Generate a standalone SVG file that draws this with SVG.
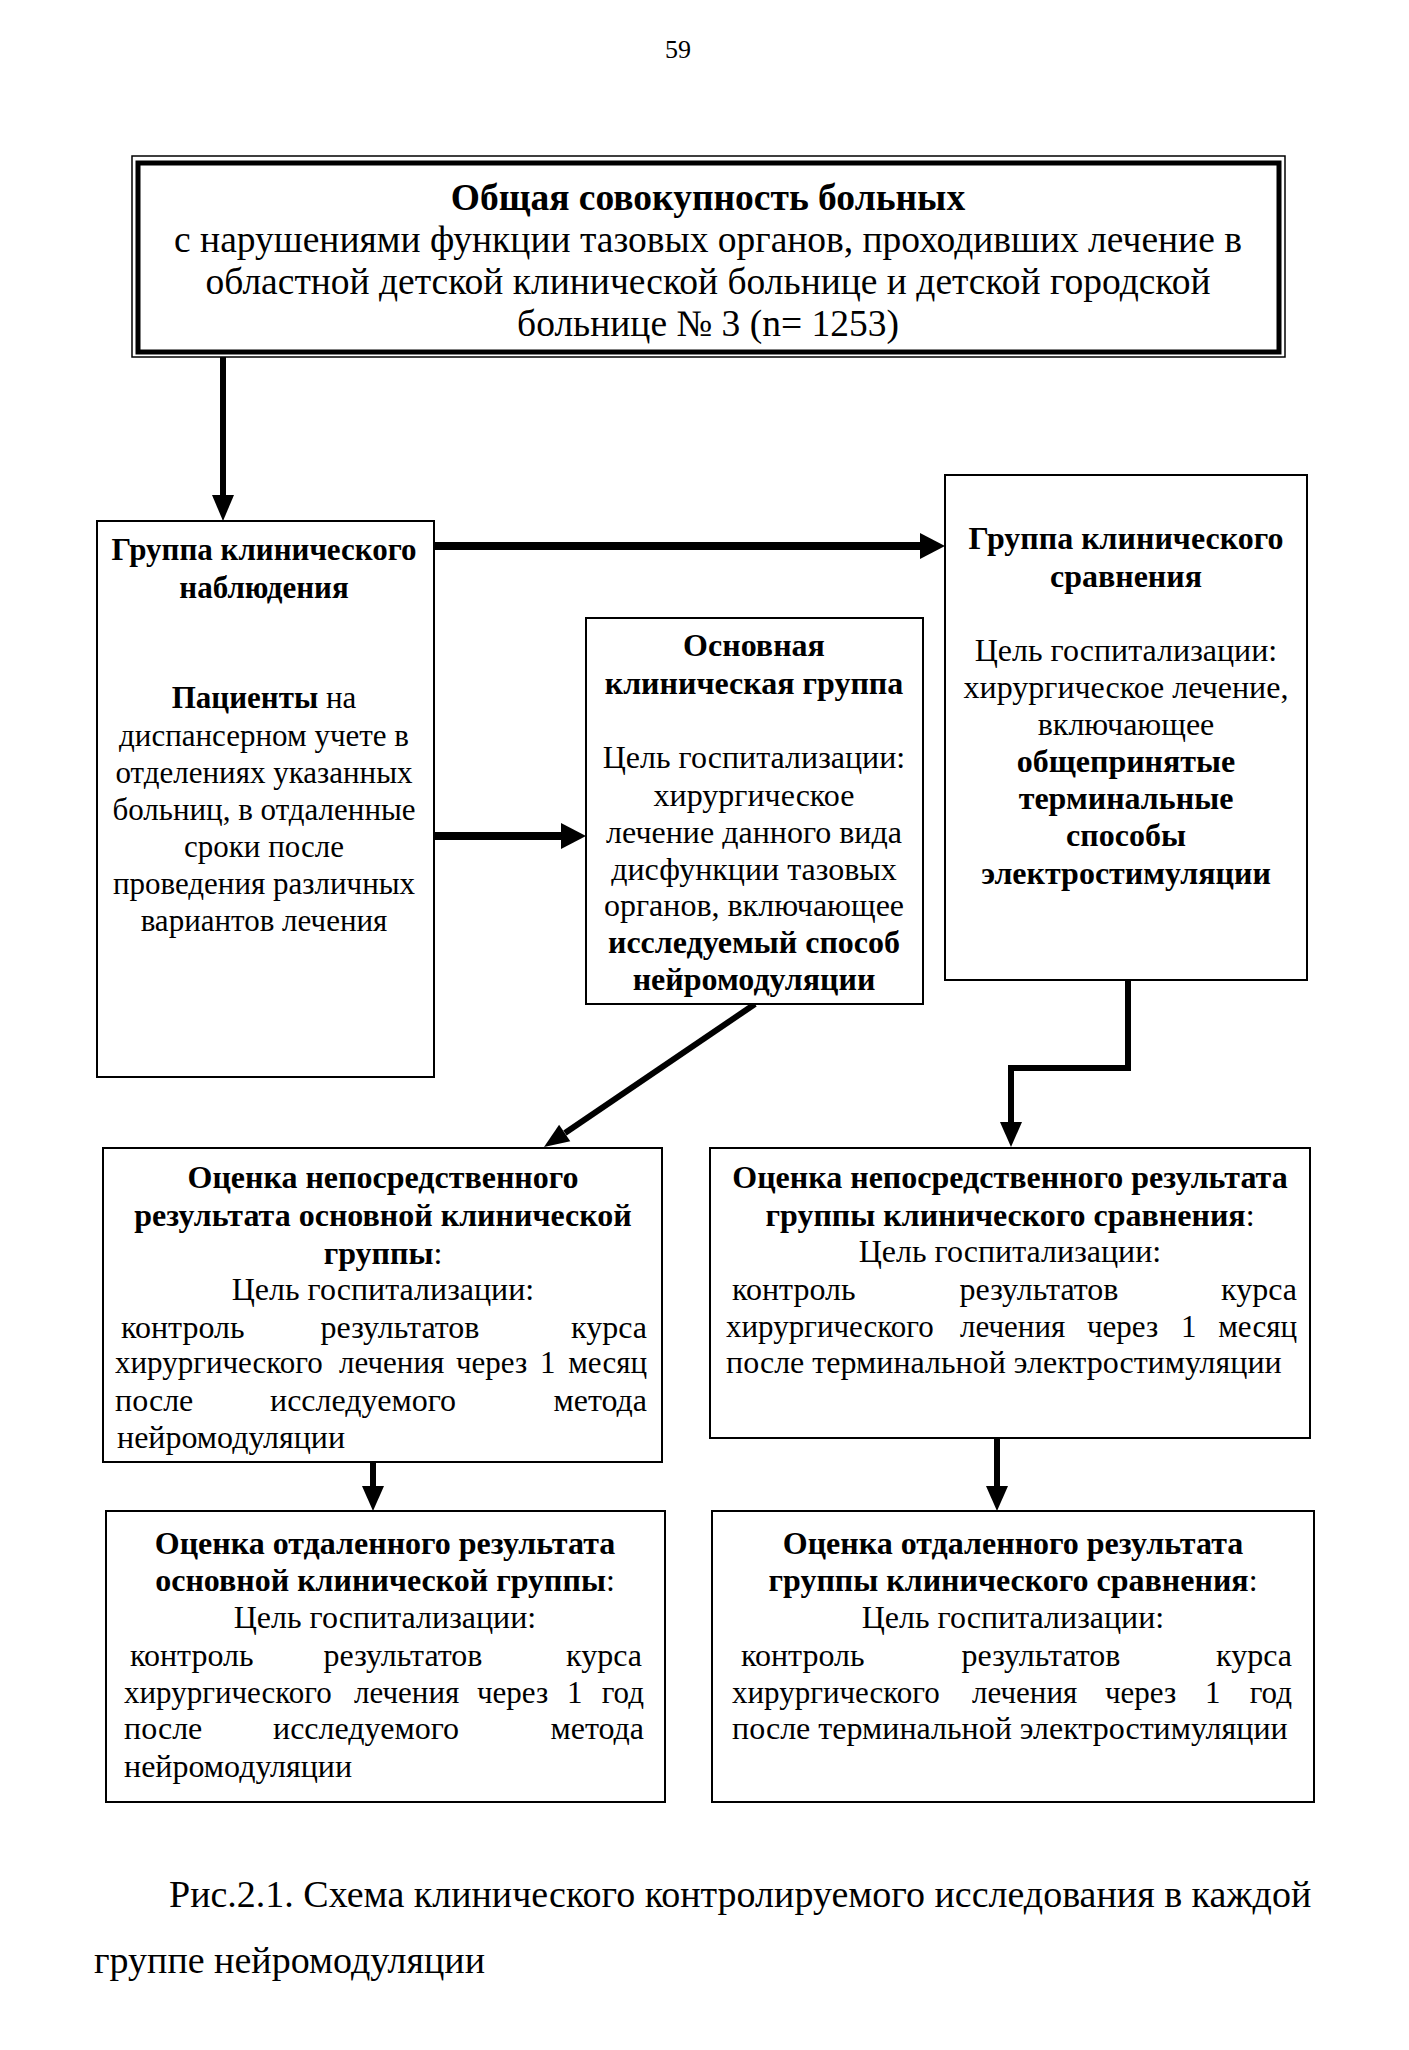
<svg xmlns="http://www.w3.org/2000/svg" width="1409" height="2050" viewBox="0 0 1409 2050">
<style>
text{font-family:"Liberation Serif","Times New Roman",serif;fill:#000}
.t{font-size:37.5px}
.b{font-size:32px}
.s{font-size:31px}
.h{font-weight:bold}
.c{text-anchor:middle}
.e{text-anchor:end}
.box{fill:#fff;stroke:#000;stroke-width:2}
.ln{stroke:#000;fill:none}
</style>
<rect width="1409" height="2050" fill="#fff"/>
<text x="678" y="58" class="c" style="font-size:26px">59</text>
<g id="connectors">
<line class="ln" x1="223" y1="357" x2="223" y2="498" stroke-width="6"/>
<polygon points="212,495 234,495 223,521"/>
<line class="ln" x1="418" y1="546" x2="922" y2="546" stroke-width="8"/>
<polygon points="920,533 920,559 945,546"/>
<line class="ln" x1="418" y1="836" x2="563" y2="836" stroke-width="8"/>
<polygon points="561,823 561,849 586,836"/>
<line class="ln" x1="755" y1="1004" x2="565" y2="1133" stroke-width="6"/>
<polygon points="570.3,1141.3 559.1,1124.7 544,1147"/>
<polyline class="ln" points="1128,980 1128,1068 1011,1068 1011,1124" stroke-width="6"/>
<polygon points="1000,1122 1022,1122 1011,1147"/>
<line class="ln" x1="373" y1="1462" x2="373" y2="1488" stroke-width="6"/>
<polygon points="362,1486 384,1486 373,1511"/>
<line class="ln" x1="997" y1="1438" x2="997" y2="1488" stroke-width="6"/>
<polygon points="986,1486 1008,1486 997,1511"/>
</g>
<g id="total">
<rect x="132" y="156" width="1153" height="201" fill="#fff" stroke="#000" stroke-width="1.5"/>
<rect x="138" y="163" width="1141" height="189" fill="none" stroke="#000" stroke-width="5"/>
<text x="708" y="210" class="t c h">Общая совокупность больных</text>
<text x="708" y="252" class="t c">с нарушениями функции тазовых органов, проходивших лечение в</text>
<text x="708" y="294" class="t c">областной детской клинической больнице и детской городской</text>
<text x="708" y="336" class="t c">больнице № 3 (n= 1253)</text>
</g>
<g id="observation">
<rect class="box" x="97" y="521" width="337" height="556"/>
<text x="264" y="560" class="s c h">Группа клинического</text>
<text x="264" y="598" class="s c h">наблюдения</text>
<text x="264" y="708" class="s c"><tspan class="h">Пациенты</tspan>  на</text>
<text x="264" y="746" class="s c">диспансерном учете в</text>
<text x="264" y="783" class="s c">отделениях указанных</text>
<text x="264" y="820" class="s c">больниц, в отдаленные</text>
<text x="264" y="857" class="s c">сроки после</text>
<text x="264" y="894" class="s c">проведения различных</text>
<text x="264" y="931" class="s c">вариантов лечения</text>
</g>
<g id="main-group">
<rect class="box" x="586" y="618" width="337" height="386"/>
<text x="754" y="656" class="b c h">Основная</text>
<text x="754" y="694" class="b c h">клиническая группа</text>
<text x="754" y="768" class="b c">Цель госпитализации:</text>
<text x="754" y="806" class="b c">хирургическое</text>
<text x="754" y="843" class="b c">лечение данного вида</text>
<text x="754" y="880" class="b c">дисфункции тазовых</text>
<text x="754" y="916" class="b c">органов, включающее</text>
<text x="754" y="953" class="b c h">исследуемый способ</text>
<text x="754" y="990" class="b c h">нейромодуляции</text>
</g>
<g id="comparison">
<rect class="box" x="945" y="475" width="362" height="505"/>
<text x="1126" y="549" class="b c h">Группа клинического</text>
<text x="1126" y="587" class="b c h">сравнения</text>
<text x="1126" y="661" class="b c">Цель госпитализации:</text>
<text x="1126" y="698" class="b c">хирургическое лечение,</text>
<text x="1126" y="735" class="b c">включающее</text>
<text x="1126" y="772" class="b c h">общепринятые</text>
<text x="1126" y="809" class="b c h">терминальные</text>
<text x="1126" y="846" class="b c h">способы</text>
<text x="1126" y="884" class="b c h">электростимуляции</text>
</g>
<g id="immediate-main">
<rect class="box" x="103" y="1148" width="559" height="314"/>
<text x="383" y="1188" class="b c h">Оценка непосредственного</text>
<text x="383" y="1226" class="b c h">результата основной клинической</text>
<text x="383" y="1264" class="b c"><tspan class="h">группы</tspan>:</text>
<text x="383" y="1300" class="b c">Цель госпитализации:</text>
<text x="121" y="1338" class="b">контроль</text>
<text x="400" y="1338" class="b c">результатов</text>
<text x="647" y="1338" class="b e">курса</text>
<text y="1373" class="s"><tspan x="115">хирургического</tspan><tspan x="339">лечения</tspan><tspan x="456">через</tspan><tspan x="540">1</tspan></text>
<text x="647" y="1373" class="s e">месяц</text>
<text x="115" y="1411" class="b">после</text>
<text x="363" y="1411" class="b c">исследуемого</text>
<text x="647" y="1411" class="b e">метода</text>
<text x="117" y="1448" class="b">нейромодуляции</text>
</g>
<g id="immediate-comparison">
<rect class="box" x="710" y="1148" width="600" height="290"/>
<text x="1010" y="1188" class="b c h">Оценка непосредственного результата</text>
<text x="1010" y="1226" class="b c"><tspan class="h">группы клинического сравнения</tspan>:</text>
<text x="1010" y="1262" class="b c">Цель госпитализации:</text>
<text x="732" y="1300" class="b">контроль</text>
<text x="1039" y="1300" class="b c">результатов</text>
<text x="1297" y="1300" class="b e">курса</text>
<text y="1337" class="s"><tspan x="726">хирургического</tspan><tspan x="960">лечения</tspan><tspan x="1087">через</tspan><tspan x="1181">1</tspan></text>
<text x="1297" y="1337" class="s e">месяц</text>
<text x="726" y="1373" class="b">после терминальной электростимуляции</text>
</g>
<g id="remote-main">
<rect class="box" x="106" y="1511" width="559" height="291"/>
<text x="385" y="1554" class="b c h">Оценка отдаленного результата</text>
<text x="385" y="1591" class="b c"><tspan class="h">основной клинической группы</tspan>:</text>
<text x="385" y="1628" class="b c">Цель госпитализации:</text>
<text x="130" y="1666" class="b">контроль</text>
<text x="403" y="1666" class="b c">результатов</text>
<text x="642" y="1666" class="b e">курса</text>
<text y="1703" class="s"><tspan x="124">хирургического</tspan><tspan x="354">лечения</tspan><tspan x="477">через</tspan><tspan x="567">1</tspan></text>
<text x="644" y="1703" class="s e">год</text>
<text x="124" y="1739" class="b">после</text>
<text x="366" y="1739" class="b c">исследуемого</text>
<text x="644" y="1739" class="b e">метода</text>
<text x="124" y="1777" class="b">нейромодуляции</text>
</g>
<g id="remote-comparison">
<rect class="box" x="712" y="1511" width="602" height="291"/>
<text x="1013" y="1554" class="b c h">Оценка отдаленного результата</text>
<text x="1013" y="1591" class="b c"><tspan class="h">группы клинического сравнения</tspan>:</text>
<text x="1013" y="1628" class="b c">Цель госпитализации:</text>
<text x="741" y="1666" class="b">контроль</text>
<text x="1041" y="1666" class="b c">результатов</text>
<text x="1292" y="1666" class="b e">курса</text>
<text y="1703" class="s"><tspan x="732">хирургического</tspan><tspan x="972">лечения</tspan><tspan x="1105">через</tspan><tspan x="1205">1</tspan></text>
<text x="1292" y="1703" class="s e">год</text>
<text x="732" y="1739" class="b">после терминальной электростимуляции</text>
</g>
<text x="169" y="1907" style="font-size:38px">Рис.2.1. Схема клинического контролируемого исследования в каждой</text>
<text x="94" y="1973" style="font-size:38px">группе нейромодуляции</text>
</svg>
